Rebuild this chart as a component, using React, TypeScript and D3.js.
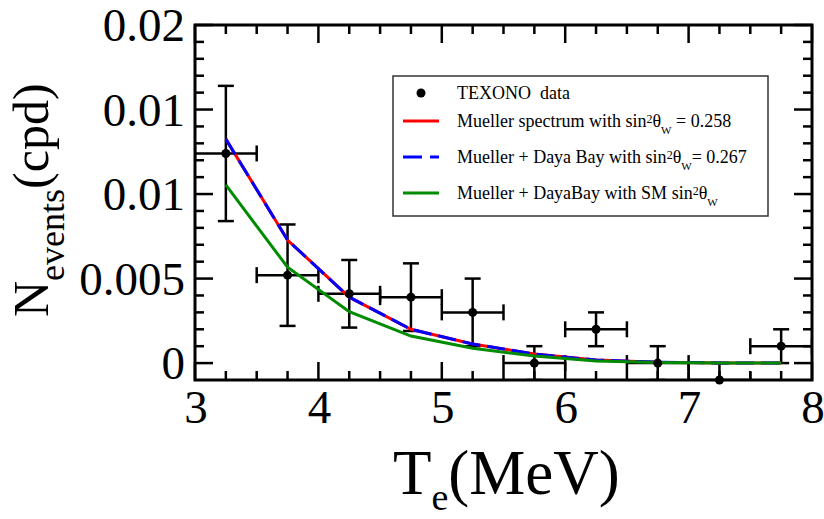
import React from "react";
import * as d3 from "d3";

const energyBins = [3.25, 3.75, 4.25, 4.75, 5.25, 5.75, 6.25, 6.75, 7.25, 7.75];
const binHalfWidth = 0.25;
const texonoData = [0.0124, 0.0052, 0.0041, 0.0039, 0.003, 0.0, 0.002, 0.0, -0.001, 0.001];
const texonoErr = [0.004, 0.003, 0.002, 0.002, 0.002, 0.001, 0.001, 0.001, 0.001, 0.001];
const muellerCurve = [0.01325, 0.00728, 0.0039, 0.002, 0.00113, 0.00054, 0.00018, 0.00005, 0.00001, 0.0];
const dayaBayCurve = [0.01325, 0.00728, 0.0039, 0.002, 0.00113, 0.00054, 0.00018, 0.00005, 0.00001, 0.0];
const smCurve = [0.01054, 0.00567, 0.00304, 0.0016, 0.00088, 0.00042, 0.00012, 0.00003, 0.00001, 0.0];

const xMajorTicks = [3, 4, 5, 6, 7, 8];
const xTickLabels = ["3", "4", "5", "6", "7", "8"];
const yMajorTicks = [0, 0.005, 0.01, 0.015, 0.02];
const yTickLabels = ["0", "0.005", "0.01", "0.01", "0.02"];

const FONT = "'Liberation Serif', 'Times New Roman', Times, serif";

export default function App() {
  const W = 824;
  const H = 519;
  const left = 195, right = 812, top = 25, bottom = 380;
  const x = d3.scaleLinear().domain([3, 8]).range([left, right]);
  const y = d3.scaleLinear().domain([-0.001, 0.02]).range([bottom, top]);

  const xMinor = d3.range(3.25, 8, 0.25).filter((v) => Math.abs(v - Math.round(v)) > 1e-6);
  const yMinor = d3.range(1, 20).map((i) => i * 0.001).filter((v) => Math.abs(v / 0.005 - Math.round(v / 0.005)) > 1e-6);

  const line = d3
    .line<number>()
    .x((_, i) => x(energyBins[i]))
    .y((d) => y(d));

  const majorLen = 18, minorLen = 9;
  const tickStroke = 2.5;

  const legendX = 393, legendY = 76, legendW = 375, legendH = 140;
  const sampleX1 = 403, sampleX2 = 439, textX = 457;
  const rows = [93, 121, 157, 193];

  const sinTheta = (tail: string) => [
    <tspan key="a">sin</tspan>,
    <tspan key="b" fontSize={12} dy={-4}>2</tspan>,
    <tspan key="c" dy={4}>θ</tspan>,
    <tspan key="d" fontSize={11} dy={7}>W</tspan>,
    <tspan key="e" dy={-7} style={{ whiteSpace: "pre" }}>{tail}</tspan>,
  ];

  return (
    <svg
      width={W}
      height={H}
      style={{ position: "absolute", left: 0, top: 0, background: "#fff" }}
      fontFamily={FONT}
    >
      <defs>
        <clipPath id="plotClip">
          <rect x={left} y={top} width={right - left} height={bottom - top} />
        </clipPath>
      </defs>
      <rect x={0} y={0} width={W} height={H} fill="#fff" />

      {/* ticks */}
      <g stroke="#000" strokeWidth={tickStroke}>
        {xMajorTicks.map((t) => (
          <g key={"xm" + t}>
            <line x1={x(t)} x2={x(t)} y1={bottom} y2={bottom - majorLen} />
            <line x1={x(t)} x2={x(t)} y1={top} y2={top + majorLen} />
          </g>
        ))}
        {xMinor.map((t) => (
          <g key={"xn" + t}>
            <line x1={x(t)} x2={x(t)} y1={bottom} y2={bottom - minorLen} />
            <line x1={x(t)} x2={x(t)} y1={top} y2={top + minorLen} />
          </g>
        ))}
        {yMajorTicks.map((t) => (
          <g key={"ym" + t}>
            <line x1={left} x2={left + majorLen} y1={y(t)} y2={y(t)} />
            <line x1={right} x2={right - majorLen} y1={y(t)} y2={y(t)} />
          </g>
        ))}
        {yMinor.map((t) => (
          <g key={"yn" + t}>
            <line x1={left} x2={left + minorLen} y1={y(t)} y2={y(t)} />
            <line x1={right} x2={right - minorLen} y1={y(t)} y2={y(t)} />
          </g>
        ))}
      </g>

      {/* error bars */}
      <g stroke="#000" strokeWidth={2.5} clipPath="url(#plotClip)">
        {energyBins.map((e, i) => {
          const cx = x(e);
          const cy = y(texonoData[i]);
          const xl = x(e - binHalfWidth);
          const xr = x(e + binHalfWidth);
          const yt = y(texonoData[i] + texonoErr[i]);
          const yb = y(texonoData[i] - texonoErr[i]);
          return (
            <g key={"eb" + i}>
              <line x1={xl} x2={xr} y1={cy} y2={cy} />
              <line x1={xl} x2={xl} y1={cy - 8} y2={cy + 8} />
              <line x1={xr} x2={xr} y1={cy - 8} y2={cy + 8} />
              <line x1={cx} x2={cx} y1={yt} y2={yb} />
              <line x1={cx - 8} x2={cx + 8} y1={yt} y2={yt} />
              <line x1={cx - 8} x2={cx + 8} y1={yb} y2={yb} />
            </g>
          );
        })}
      </g>

      {/* curves */}
      <path d={line(muellerCurve) || ""} fill="none" stroke="#ff0000" strokeWidth={3} />
      <path d={line(dayaBayCurve) || ""} fill="none" stroke="#0000ff" strokeWidth={3} strokeDasharray="18 7" />
      <path d={line(smCurve) || ""} fill="none" stroke="#008b00" strokeWidth={3} />

      {/* dots */}
      {energyBins.map((e, i) => (
        <circle key={"pt" + i} cx={x(e)} cy={y(texonoData[i])} r={4.5} fill="#000" />
      ))}

      {/* frame */}
      <rect x={left} y={top} width={right - left} height={bottom - top} fill="none" stroke="#000" strokeWidth={3} />

      {/* tick labels */}
      <g fontSize={47} fill="#000">
        {yMajorTicks.map((t, i) => (
          <text key={"yl" + t} x={185} y={y(t) + 16} textAnchor="end">
            {yTickLabels[i]}
          </text>
        ))}
        {xMajorTicks.map((t, i) => (
          <text key={"xl" + t} x={x(t) + 1} y={423} textAnchor="middle">
            {xTickLabels[i]}
          </text>
        ))}
      </g>

      {/* axis titles */}
      <text x={393} y={494} fontSize={63} fill="#000">
        <tspan>T</tspan>
        <tspan fontSize={38} dy={16}>e</tspan>
        <tspan dy={-16}>(MeV)</tspan>
      </text>
      <text transform="rotate(-90)" x={-317} y={48} fontSize={50} fill="#000">
        <tspan>N</tspan>
        <tspan fontSize={36} dy={16}>events</tspan>
        <tspan dy={-16}>(cpd)</tspan>
      </text>

      {/* legend */}
      <rect x={legendX} y={legendY} width={legendW} height={legendH} fill="#fff" stroke="#333" strokeWidth={1.5} />
      <circle cx={421} cy={rows[0]} r={4.5} fill="#000" />
      <line x1={sampleX1} x2={sampleX2} y1={rows[1]} y2={rows[1]} stroke="#ff0000" strokeWidth={3} />
      <line x1={sampleX1} x2={sampleX2} y1={rows[2]} y2={rows[2]} stroke="#0000ff" strokeWidth={3} strokeDasharray="19 8" />
      <line x1={sampleX1} x2={sampleX2} y1={rows[3]} y2={rows[3]} stroke="#008b00" strokeWidth={3} />
      <g fontSize={18} fill="#000">
        <text x={textX} y={rows[0] + 6} style={{ whiteSpace: "pre" }}>TEXONO  data</text>
        <text x={textX} y={rows[1] + 6}>
          <tspan>Mueller spectrum with </tspan>
          {sinTheta(" = 0.258")}
        </text>
        <text x={textX} y={rows[2] + 6}>
          <tspan>Mueller + Daya Bay with </tspan>
          {sinTheta("= 0.267")}
        </text>
        <text x={textX} y={rows[3] + 6}>
          <tspan>Mueller + DayaBay with SM </tspan>
          {sinTheta("")}
        </text>
      </g>
    </svg>
  );
}
